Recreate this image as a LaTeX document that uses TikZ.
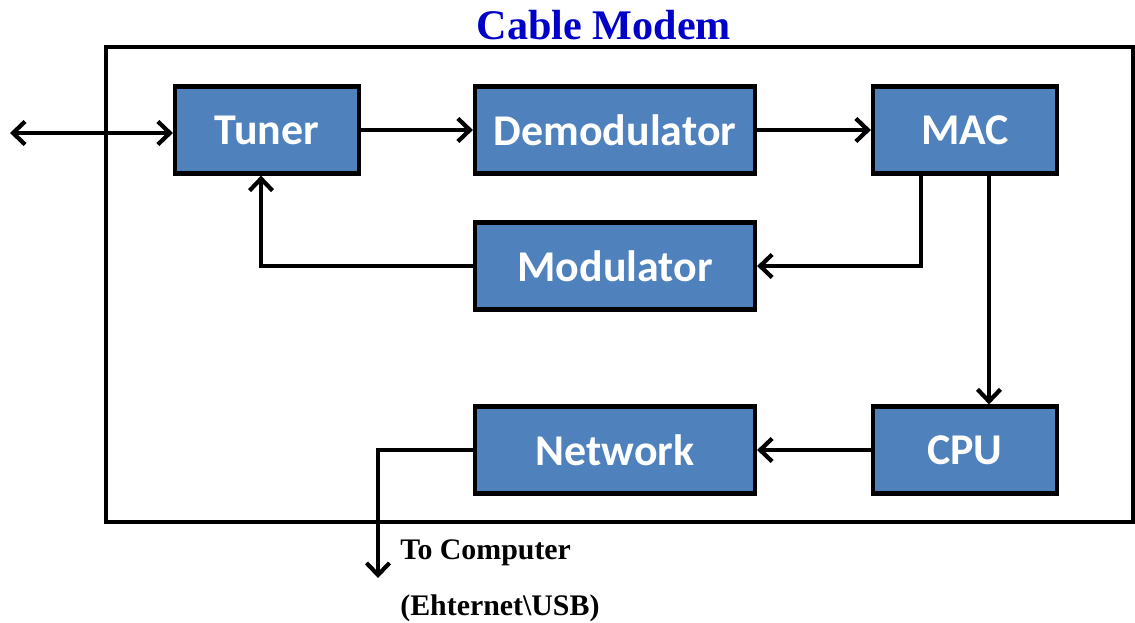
\documentclass[tikz,border=0pt]{standalone}
\usepackage{fontspec}
\setmainfont{Liberation Serif}
\newfontfamily\blockfont{Carlito}
\usetikzlibrary{arrows.meta, positioning}
\definecolor{blockblue}{RGB}{79,129,189}
\definecolor{titleblue}{RGB}{0,0,200}

\begin{document}
\begin{tikzpicture}[x=0.02cm, y=-0.02cm,
            > = {Straight Barb[length=2.4mm, width=4.6mm]},
 block/.style = {draw, line width=2.4pt, fill=blockblue, text=white,
                 font=\blockfont\bfseries\fontsize{25}{30}\selectfont,
                 minimum width=3.68cm, minimum height=1.74cm, inner sep=0pt},
 wide/.style  = {block, minimum width=5.6cm},
 link/.style  = {line width=2.4pt, ->},
 note/.style  = {anchor=west, font=\bfseries\fontsize{17}{20}\selectfont, inner sep=0pt}
                        ]
\useasboundingbox (0,0) rectangle (1135,622);
% frame
    \draw[line width=2.4pt] (106,47) rectangle (1133,522);
    \node[text=titleblue, font=\bfseries\fontsize{24}{28}\selectfont] (title) at (604,25) {Cable Modem};
% blocks
    \node[block] (tuner)   at (267,130) {Tuner};
    \node[wide]  (demod)   at (615,130) {Demodulator};
    \node[block] (mac)     at (965,130) {MAC};
    \node[wide]  (modul)   at (615,266) {Modulator};
    \node[wide]  (network) at (615,450) {Network};
    \node[block] (cpu)     at (965,450) {CPU};
% free ends
\coordinate (cable) at (10,133);
\coordinate (pc)    at (378,578);
% links
    \draw[link, <->] (cable) -- (tuner.west |- cable);
    \draw[link] (tuner) -- (demod);
    \draw[link] (demod) -- (mac);
    \draw[link] ([xshift=-0.88cm]mac.south) |- (modul.east);
    \draw[link] (modul.west) -| ([xshift=-0.12cm]tuner.south);
    \draw[link] ([xshift=0.48cm]mac.south) -- ([xshift=0.48cm]cpu.north);
    \draw[link] (cpu) -- (network);
    \draw[link] (network.west) -| (pc);
% labels
    \node[note] (tocomp) at (400,553) {To Computer};
    \node[note] (iface)  at (400,608) {(Ehternet\textbackslash USB)};
\end{tikzpicture}
\end{document}
